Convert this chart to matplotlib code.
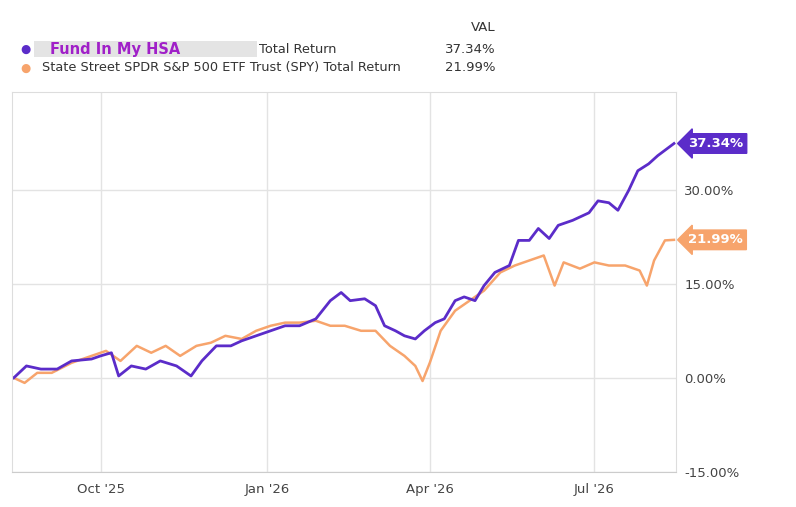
import matplotlib.pyplot as plt
import matplotlib.dates as mdates
import numpy as np
import pandas as pd
from matplotlib.patches import Rectangle

start = pd.Timestamp("2025-08-14")

fund_days = [0, 7, 15, 24, 32, 43, 48, 54, 58, 65, 73, 81, 90, 98, 104, 112, 120, 126, 134, 142,
             150, 158, 167, 175, 181, 186, 194, 200, 205, 211, 216, 222, 227, 233, 238, 244, 249,
             255, 260, 266, 274, 279, 285, 290, 296, 301, 309, 318, 323, 329, 334, 340, 345, 351,
             356, 365]
fund_vals = [0, 1.9, 1.4, 1.4, 2.7, 3.0, 3.5, 4.0, 0.3, 1.9, 1.4, 2.7, 1.9, 0.3, 2.7, 5.1, 5.1,
             5.9, 6.7, 7.5, 8.3, 8.3, 9.4, 12.3, 13.6, 12.3, 12.6, 11.5, 8.3, 7.5, 6.7, 6.2, 7.5,
             8.8, 9.4, 12.3, 12.9, 12.3, 14.7, 16.8, 17.9, 21.9, 21.9, 23.8, 22.2, 24.3, 25.1,
             26.3, 28.2, 27.9, 26.7, 29.9, 33.0, 34.1, 35.4, 37.34]

spy_days = [0, 6, 13, 21, 32, 43, 51, 59, 68, 76, 84, 92, 101, 109, 117, 126, 134, 142, 150, 158,
            167, 175, 183, 192, 200, 208, 216, 222, 226, 230, 236, 244, 252, 260, 269, 277, 285,
            293, 299, 304, 313, 321, 329, 338, 346, 350, 354, 360, 365]
spy_vals = [0, -0.8, 0.8, 0.8, 2.4, 3.5, 4.3, 2.7, 5.1, 4.0, 5.1, 3.5, 5.1, 5.6, 6.7, 6.2, 7.5,
            8.3, 8.8, 8.8, 9.1, 8.3, 8.3, 7.5, 7.5, 5.1, 3.5, 1.9, -0.5, 2.4, 7.5, 10.7, 12.3,
            13.9, 16.8, 17.9, 18.7, 19.5, 14.7, 18.4, 17.4, 18.4, 17.9, 17.9, 17.1, 14.7, 18.7,
            21.9, 21.99]

fund_dates = start + pd.to_timedelta(fund_days, unit="D")
spy_dates = start + pd.to_timedelta(spy_days, unit="D")

purple = "#5b2cc9"
orange = "#f7a46c"

fig = plt.figure(figsize=(7.96, 5.07), dpi=100)
ax = fig.add_axes([0.015, 0.069, 0.834, 0.749])

ax.plot(spy_dates, spy_vals, color=orange, lw=1.8)
ax.plot(fund_dates, fund_vals, color=purple, lw=2.0)

ax.set_xlim(start - pd.Timedelta(days=1), start + pd.Timedelta(days=366))
ax.set_ylim(-15, 45.5)
ax.set_yticks([-15, 0, 15, 30])
ax.yaxis.tick_right()
ax.yaxis.set_major_formatter(plt.FuncFormatter(lambda v, p: f"{v:.2f}%"))
ax.tick_params(axis="y", length=0, pad=6, labelsize=9.5, labelcolor="#444444")
ax.tick_params(axis="x", length=0, pad=8, labelsize=9.5, labelcolor="#444444")
ticks = pd.to_datetime(["2025-10-01", "2026-01-01", "2026-04-01", "2026-07-01"])
ax.set_xticks(ticks)
ax.set_xticklabels(["Oct '25", "Jan '26", "Apr '26", "Jul '26"])
ax.grid(True, color="#e3e3e3", lw=1)
for s in ax.spines.values():
    s.set_color("#dddddd")
ax.spines["bottom"].set_color("#cccccc")

for val, col in [(fund_vals[-1], purple), (spy_vals[-1], orange)]:
    ax.annotate(f"{val:.2f}%", xy=(1.0, val), xycoords=("axes fraction", "data"),
                xytext=(9, 0), textcoords="offset points", va="center", ha="left",
                color="white", fontsize=9.5, fontweight="bold",
                bbox=dict(boxstyle="larrow,pad=0.25", fc=col, ec=col))

# legend header
fig.text(0.622, 0.938, "VAL", fontsize=9.5, ha="right", color="#333333")
fig.text(0.622, 0.903, "37.34%", fontsize=9.5, ha="right", color="#333333", va="center")
fig.text(0.622, 0.866, "21.99%", fontsize=9.5, ha="right", color="#333333", va="center")
fig.patches.append(Rectangle((0.043, 0.888), 0.28, 0.032, transform=fig.transFigure,
                             fc="#e4e4e4", ec="none"))
fig.text(0.026, 0.903, "\u25cf", color=purple, fontsize=8.5, va="center")
fig.text(0.063, 0.903, "Fund In My HSA", color="#a020c8", fontsize=10.5, fontweight="bold", va="center")
fig.text(0.325, 0.903, "Total Return", color="#333333", fontsize=9.3, va="center")
fig.text(0.026, 0.866, "\u25cf", color=orange, fontsize=8.5, va="center")
fig.text(0.053, 0.866, "State Street SPDR S&P 500 ETF Trust (SPY) Total Return",
         color="#333333", fontsize=9.3, va="center")

fig.savefig("out.png", dpi=100)
